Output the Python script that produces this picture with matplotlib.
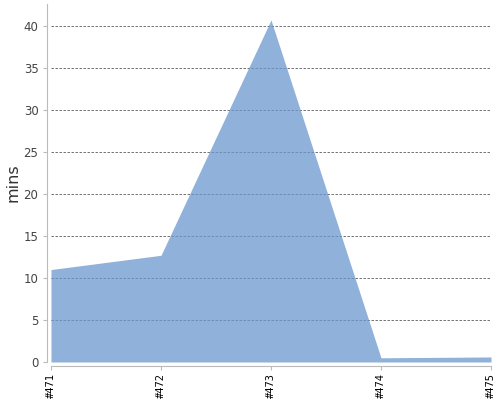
import matplotlib
matplotlib.use("Agg")
import matplotlib.pyplot as plt

# build durations
builds = ["#471", "#472", "#473", "#474", "#475"]
mins = [11.0, 12.7, 40.7, 0.5, 0.6]
y_ticks = [0, 5, 10, 15, 20, 25, 30, 35, 40]

fig = plt.figure(figsize=(5, 4), dpi=100)
ax = fig.add_axes([0.102, 0.095, 0.880, 0.895])

x = list(range(len(builds)))
# semi-transparent fill so the grid shows through, as in the original
ax.fill_between(x, 0, mins, color="#6a97ce", alpha=0.75, linewidth=0, zorder=2)

# spines first: set_position resets the tick objects
for side in ("top", "right"):
    ax.spines[side].set_visible(False)
for side in ("left", "bottom"):
    ax.spines[side].set_color("#bbbbbb")
    ax.spines[side].set_position(("outward", 3))

ax.set_xlim(0, len(builds) - 1)
ax.set_ylim(0, 42.6)
ax.set_yticks(y_ticks)
ax.set_xticks(x)
ax.set_xticklabels(builds, rotation=90, family="DejaVu Sans Mono", fontsize=7.5, color="black")

for t in y_ticks[1:]:
    ax.axhline(t, color="#777777", linestyle=(0, (2.5, 1.5)), linewidth=0.72, zorder=1)

ax.tick_params(axis="y", colors="#bbbbbb", labelcolor="#444444", labelsize=8.5, length=3, pad=3)
ax.tick_params(axis="x", colors="#bbbbbb", labelcolor="black", length=3, pad=2)

ax.set_ylabel("mins", fontsize=11.5, color="#333333", labelpad=2)

fig.savefig("out.png", dpi=100)
